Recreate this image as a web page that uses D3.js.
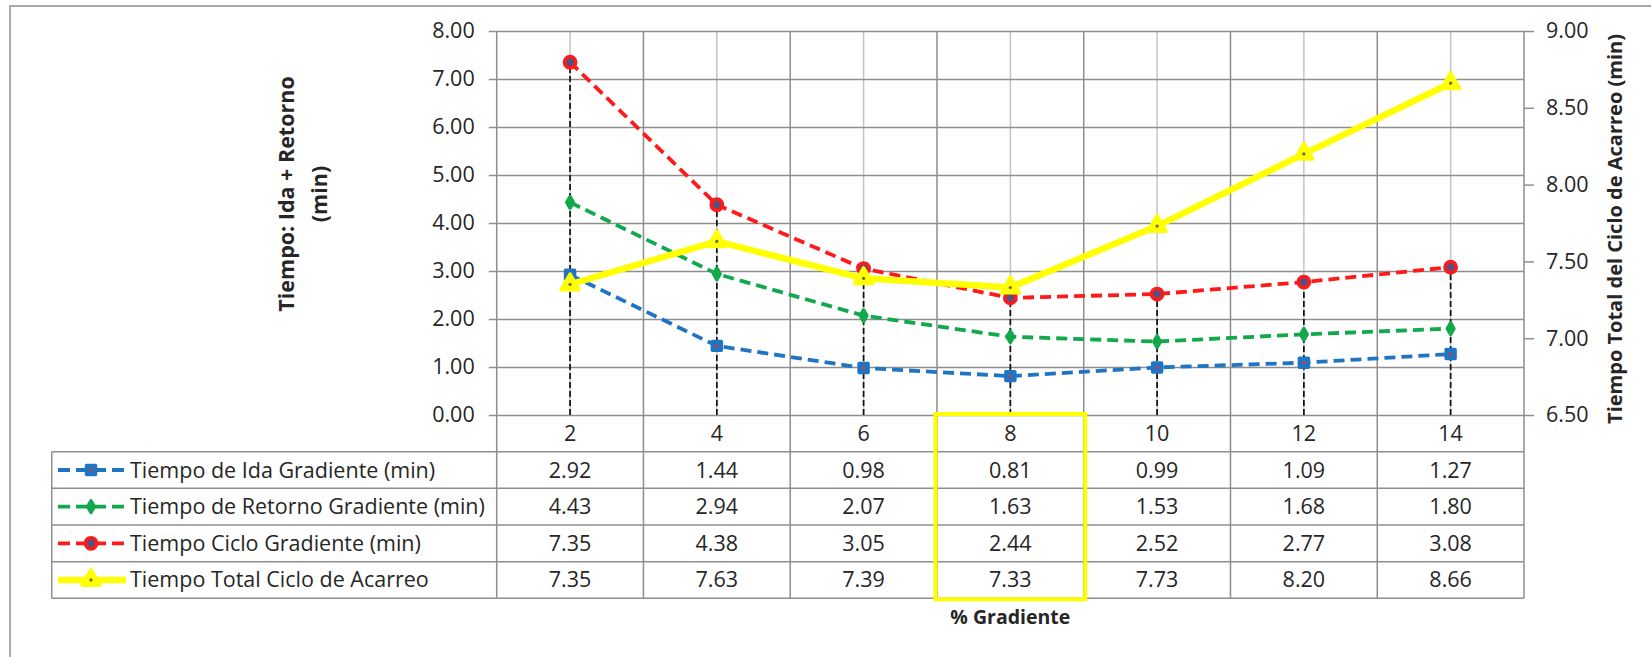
<!DOCTYPE html>
<html>
<head>
<meta charset="utf-8">
<script src="https://cdn.jsdelivr.net/npm/d3@7"></script>
<style>
  html, body { margin: 0; padding: 0; background: #ffffff; }
  svg { display: block; }
  text { font-family: "Open Sans", "Noto Sans", sans-serif; fill: #262626; }
</style>
</head>
<body>
<svg id="chart" width="1651" height="657"></svg>
<script>
// Gradient (%) categories and the measured travel times
const categories = ["2", "4", "6", "8", "10", "12", "14"];
const tiempoIda = [2.92, 1.44, 0.98, 0.81, 0.99, 1.09, 1.27];
const tiempoRetorno = [4.43, 2.94, 2.07, 1.63, 1.53, 1.68, 1.80];
const tiempoCiclo = [7.35, 4.38, 3.05, 2.44, 2.52, 2.77, 3.08];
const tiempoTotal = [7.35, 7.63, 7.39, 7.33, 7.73, 8.20, 8.66];

const leftTicks = [0, 1, 2, 3, 4, 5, 6, 7, 8];
const rightTicks = [6.5, 7.0, 7.5, 8.0, 8.5, 9.0];
const highlightCategory = "8";

const series = [
  { name: "Tiempo de Ida Gradiente (min)", values: tiempoIda, axis: "left",
    color: "#1f74c4", dash: "11,6", width: 3.8, symbol: d3.symbolSquare, size: 80,
    inner: "#1f74c4", dot: "#d0403a" },
  { name: "Tiempo de Retorno Gradiente (min)", values: tiempoRetorno, axis: "left",
    color: "#12a84c", dash: "11,6", width: 3.8, symbol: d3.symbolDiamond, size: 38,
    inner: "#12a84c", dot: null },
  { name: "Tiempo Ciclo Gradiente (min)", values: tiempoCiclo, axis: "left",
    color: "#ff1a1a", dash: "11,6", width: 3.8, symbol: d3.symbolCircle, size: 100,
    inner: "#55507f", dot: null },
  { name: "Tiempo Total Ciclo de Acarreo", values: tiempoTotal, axis: "right",
    color: "#ffff00", dash: null, width: 6.5, symbol: d3.symbolTriangle, size: 140,
    inner: "#ffff00", dot: "#6b6b3a" }
];

const svg = d3.select("#chart");

// Plot area
const plot = { left: 496.7, right: 1524, top: 31, bottom: 415 };
const rowH = 36.66;
const tableLeft = 51.7;
const fontSize = 21.5;

const x = d3.scaleBand().domain(categories).range([plot.left, plot.right]).padding(0);
const cx = c => x(c) + x.bandwidth() / 2;
const yL = d3.scaleLinear().domain([0, 8]).range([plot.bottom, plot.top]);
const yR = d3.scaleLinear().domain([6.5, 9]).range([plot.bottom, plot.top]);

const gridDark = "#8e8e8e";
const gridLight = "#c4c4c4";

// Outer chart frame
svg.append("rect")
  .attr("x", 10).attr("y", 6).attr("width", 1660).attr("height", 700)
  .attr("fill", "none").attr("stroke", "#a9a9a9").attr("stroke-width", 2);

// Light vertical lines through each category
svg.append("g").selectAll("line").data(categories).join("line")
  .attr("x1", d => cx(d)).attr("x2", d => cx(d))
  .attr("y1", plot.top).attr("y2", plot.bottom)
  .attr("stroke", gridLight).attr("stroke-width", 1.5);

// Horizontal gridlines (left axis)
const gLeft = svg.append("g").attr("transform", `translate(${plot.left},0)`)
  .call(d3.axisLeft(yL).tickValues(leftTicks).tickFormat(d3.format(".2f"))
    .tickSize(8).tickPadding(14));
gLeft.select(".domain").attr("stroke", gridDark).attr("stroke-width", 1.5)
  .attr("d", `M0,${plot.top}V${plot.bottom + 5 * rowH}`);
gLeft.selectAll(".tick line").attr("stroke", gridDark).attr("stroke-width", 1.5);
gLeft.selectAll(".tick").append("line")
  .attr("x1", 0).attr("x2", plot.right - plot.left)
  .attr("stroke", gridDark).attr("stroke-width", 1.5);
gLeft.selectAll(".tick text").attr("font-size", fontSize).attr("fill", "#262626")
  .attr("font-family", "'Open Sans', sans-serif");

// Right axis
const gRight = svg.append("g").attr("transform", `translate(${plot.right},0)`)
  .call(d3.axisRight(yR).tickValues(rightTicks).tickFormat(d3.format(".2f"))
    .tickSize(10).tickPadding(12));
gRight.select(".domain").attr("stroke", gridDark).attr("stroke-width", 1.5)
  .attr("d", `M0,${plot.top}V${plot.bottom + 5 * rowH}`);
gRight.selectAll(".tick line").attr("stroke", gridDark).attr("stroke-width", 1.5);
gRight.selectAll(".tick text").attr("font-size", fontSize).attr("fill", "#262626")
  .attr("font-family", "'Open Sans', sans-serif");

// Category boundaries, continued down through the data table
const bounds = categories.slice(1).map(c => x(c));
svg.append("g").selectAll("line").data(bounds).join("line")
  .attr("x1", d => d).attr("x2", d => d)
  .attr("y1", plot.top).attr("y2", plot.bottom + 5 * rowH)
  .attr("stroke", gridDark).attr("stroke-width", 1.5);

// Data table horizontal rules
const tableRows = d3.range(1, 6).map(i => plot.bottom + i * rowH);
svg.append("g").selectAll("line").data(tableRows).join("line")
  .attr("x1", tableLeft).attr("x2", plot.right)
  .attr("y1", d => d).attr("y2", d => d)
  .attr("stroke", gridDark).attr("stroke-width", 1.5);
svg.append("line")
  .attr("x1", tableLeft).attr("x2", tableLeft)
  .attr("y1", plot.bottom + rowH).attr("y2", plot.bottom + 5 * rowH)
  .attr("stroke", gridDark).attr("stroke-width", 1.5);

// Drop lines from the primary-axis series down to the category axis
const primary = series.filter(s => s.axis === "left");
svg.append("g").selectAll("line").data(categories).join("line")
  .attr("x1", d => cx(d)).attr("x2", d => cx(d))
  .attr("y1", plot.bottom)
  .attr("y2", (d, i) => yL(d3.max(primary, s => s.values[i])))
  .attr("stroke", "#111").attr("stroke-width", 1.7).attr("stroke-dasharray", "6,3");

// Marker drawing shared by the plot and the table key
function drawMarker(g, s, px, py) {
  g.append("path")
    .attr("transform", `translate(${px},${py})`)
    .attr("d", d3.symbol().type(s.symbol).size(s.size))
    .attr("fill", s.inner).attr("stroke", s.color).attr("stroke-width", 3.5)
    .attr("stroke-linejoin", "round");
  if (s.dot) {
    g.append("circle").attr("cx", px).attr("cy", py).attr("r", 1.6).attr("fill", s.dot);
  }
}

// Series lines and markers
series.forEach(s => {
  const yS = s.axis === "left" ? yL : yR;
  const pts = categories.map((c, i) => [cx(c), yS(s.values[i])]);
  svg.append("path")
    .attr("d", d3.line()(pts))
    .attr("fill", "none").attr("stroke", s.color).attr("stroke-width", s.width)
    .attr("stroke-dasharray", s.dash).attr("stroke-linejoin", "round");
  const gm = svg.append("g");
  pts.forEach(p => drawMarker(gm, s, p[0], p[1]));
});

// Table header: category labels
svg.append("g").selectAll("text").data(categories).join("text")
  .attr("x", d => cx(d)).attr("y", plot.bottom + rowH / 2)
  .attr("text-anchor", "middle").attr("dy", "0.35em").attr("font-size", fontSize)
  .text(d => d);

// Table rows: legend key + values
series.forEach((s, r) => {
  const yc = plot.bottom + rowH * (r + 1.5);
  svg.append("line")
    .attr("x1", 58).attr("x2", 126).attr("y1", yc).attr("y2", yc)
    .attr("stroke", s.color).attr("stroke-width", s.dash ? 3.8 : 6.5)
    .attr("stroke-dasharray", s.dash ? "12,6" : null);
  drawMarker(svg, s, 91, yc);
  svg.append("text")
    .attr("x", 130).attr("y", yc).attr("dy", "0.35em").attr("font-size", fontSize)
    .text(s.name);
  svg.append("g").selectAll("text").data(s.values).join("text")
    .attr("x", (d, i) => cx(categories[i])).attr("y", yc)
    .attr("text-anchor", "middle").attr("dy", "0.35em").attr("font-size", fontSize)
    .text(d => d3.format(".2f")(d));
});

// Highlight box around the selected gradient column
svg.append("rect")
  .attr("x", x(highlightCategory) - 1.5).attr("y", plot.bottom - 1)
  .attr("width", x.bandwidth() + 3).attr("height", 5 * rowH + 2)
  .attr("fill", "none").attr("stroke", "#ffff00").attr("stroke-width", 4);

// Axis titles
svg.append("text")
  .attr("transform", `translate(286,194) rotate(-90)`)
  .attr("text-anchor", "middle").attr("dy", "0.35em")
  .attr("font-size", 21.5).attr("font-weight", "bold")
  .text("Tiempo: Ida + Retorno");
svg.append("text")
  .attr("transform", `translate(319,194) rotate(-90)`)
  .attr("text-anchor", "middle").attr("dy", "0.35em")
  .attr("font-size", 21.5).attr("font-weight", "bold")
  .text("(min)");
svg.append("text")
  .attr("transform", `translate(1615,229) rotate(-90)`)
  .attr("text-anchor", "middle").attr("dy", "0.35em")
  .attr("font-size", 20).attr("font-weight", "bold")
  .text("Tiempo Total del Ciclo de Acarreo (min)");
svg.append("text")
  .attr("x", cx(highlightCategory)).attr("y", 617)
  .attr("text-anchor", "middle").attr("dy", "0.35em")
  .attr("font-size", 19.5).attr("font-weight", "bold")
  .text("% Gradiente");
</script>
</body>
</html>
